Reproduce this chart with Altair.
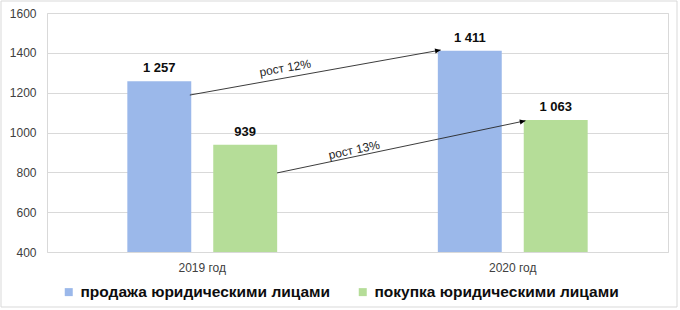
import altair as alt
import pandas as pd

# ---- data ----
years = ["2019 год", "2020 год"]
series = ["продажа юридическими лицами", "покупка юридическими лицами"]
sales = [1257, 1411]
purchases = [939, 1063]
colors = ["#9BB8EA", "#B5DD98"]

# growth annotations (x in category units: 0..2 across the plot, y in values)
arrow_x0 = [0.46, 0.741]
arrow_x1 = [1.268, 1.541]
arrow_y0 = [1188, 797]
arrow_y1 = [1414, 1059]
arrow_angle = [349.8, 348.1]
note_text = ["рост 12%", "рост 13%"]
note_x = [0.767, 0.989]
note_y = [1324, 912]
note_angle = [350, 348]
y_ticks = [400, 600, 800, 1000, 1200, 1400, 1600]

FONT = "Liberation Sans"

rows = []
for i, y in enumerate(years):
    for s, v in zip(series, [sales[i], purchases[i]]):
        rows.append({"year": y, "series": s, "value": v,
                     "label": f"{v:,}".replace(",", " ")})
df = pd.DataFrame(rows)

arrows = pd.DataFrame({"x0": arrow_x0, "x1": arrow_x1, "y0": arrow_y0,
                       "y1": arrow_y1, "ang": arrow_angle})
notes = pd.DataFrame({"t": note_text, "x": note_x, "y": note_y, "ang": note_angle})

yscale = alt.Scale(domain=[400, 1600], nice=False, zero=False)
yaxis = alt.Axis(values=y_ticks, title=None, format="d", labelOverlap=False,
                 tickCount=7, ticks=False, domain=False, labelPadding=11,
                 labelFontSize=12, labelFont=FONT, labelColor="#404040",
                 gridColor="#d9d9d9")

xband = alt.X("year:N", sort=years, title=None,
              scale=alt.Scale(paddingInner=0, paddingOuter=0),
              axis=alt.Axis(labelAngle=0, ticks=False, domain=False, grid=False,
                            labelPadding=10, labelFontSize=12, labelFont=FONT,
                            labelColor="#404040"))
xoff = alt.XOffset("series:N", sort=series,
                   scale=alt.Scale(paddingInner=0.256, paddingOuter=0.935))

base = alt.Chart(df)
bars = base.mark_bar(clip=True).encode(
    x=xband, xOffset=xoff,
    y=alt.Y("value:Q", scale=yscale, axis=yaxis),
    color=alt.Color("series:N", sort=series,
                    scale=alt.Scale(domain=series, range=colors),
                    legend=alt.Legend(title=None, orient="none", direction="horizontal",
                                      legendX=14, legendY=271, symbolType="square",
                                      symbolSize=64, symbolStrokeWidth=0,
                                      labelFontSize=15.5, labelFontWeight="bold",
                                      labelFont=FONT, labelColor="#0d0d0d",
                                      labelOffset=4, columnPadding=24,
                                      labelLimit=400)),
)
labels = base.mark_text(baseline="bottom", dy=-6, fontSize=13, fontWeight="bold",
                        font=FONT, color="#0d0d0d").encode(
    x=alt.X("year:N", sort=years), xOffset=xoff,
    y=alt.Y("value:Q", scale=yscale, axis=yaxis), text="label:N")

bar_layer = alt.layer(bars, labels)

xq = alt.X("x0:Q", scale=alt.Scale(domain=[0, 2], nice=False, zero=False), axis=None)
lines = alt.Chart(arrows).mark_rule(color="#262626", strokeWidth=0.9).encode(
    x=xq, x2="x1:Q",
    y=alt.Y("y0:Q", scale=yscale, axis=yaxis), y2="y1:Q")
heads = alt.Chart(arrows).mark_point(
    shape="M0,0 L-1,-0.45 L-1,0.45 Z", filled=True, color="#000000", size=130,
    opacity=1).encode(
    x=alt.X("x1:Q", scale=alt.Scale(domain=[0, 2], nice=False, zero=False), axis=None),
    y=alt.Y("y1:Q", scale=yscale, axis=yaxis),
    angle=alt.Angle("ang:Q", scale=None))
note_marks = alt.Chart(notes).mark_text(fontSize=12, font=FONT, color="#262626").encode(
    x=alt.X("x:Q", scale=alt.Scale(domain=[0, 2], nice=False, zero=False), axis=None),
    y=alt.Y("y:Q", scale=yscale, axis=yaxis),
    text="t:N",
    angle=alt.Angle("ang:Q", scale=None))

anno_layer = alt.layer(lines, heads, note_marks)

frame = alt.Chart(pd.DataFrame({"a": [0]})).mark_rect(
    fill=None, stroke="#d9d9d9", strokeWidth=1).encode(
    x=alt.value(-46), x2=alt.value(630), y=alt.value(-12), y2=alt.value(294))

chart = alt.layer(bar_layer, anno_layer, frame).resolve_scale(
    x="independent"
).properties(
    width=621, height=239,
    padding={"left": 47, "top": 13, "right": 12, "bottom": 58},
    autosize=alt.AutoSizeParams(type="none"),
    background="white",
).configure_view(stroke="#d9d9d9", strokeWidth=1)

chart.save("out.html", embed_options={"renderer": "svg", "actions": False})
